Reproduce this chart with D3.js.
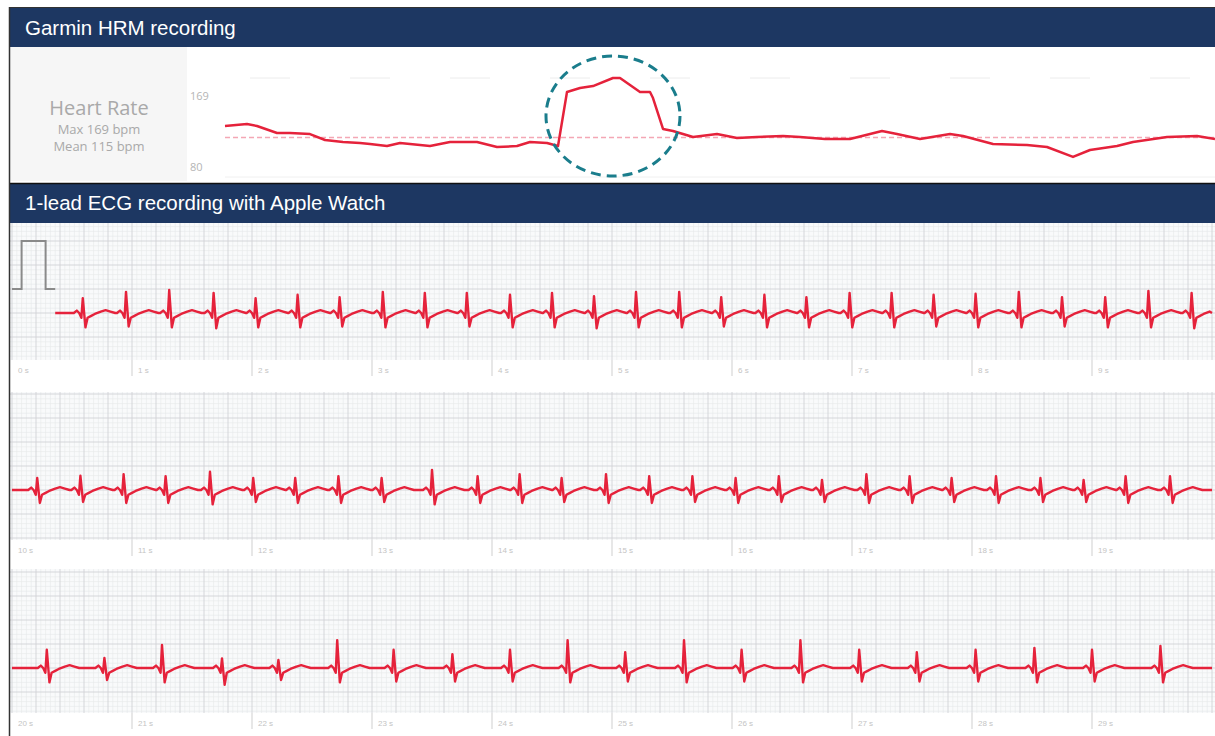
<!DOCTYPE html>
<html>
<head>
<meta charset="utf-8">
<script src="https://cdn.jsdelivr.net/npm/d3@7"></script>
<style>
  body { margin: 0; background: #fff; }
  svg { display: block; font-family: "Liberation Sans", Arial, sans-serif; }
</style>
</head>
<body>
<svg id="chart" width="1215" height="736"></svg>
<script>
// ---- Garmin HRM data (minutes from start, bpm) ----
const hrMinutes = [0, 2.2, 3.2, 5.2, 6.5, 8.5, 10, 11.8, 13.5, 14.5, 16.2, 17.5, 20.5, 22.5, 25.2, 27.2, 29.2, 30.5, 32.2, 33.3,
  34.2, 35.5, 36.8, 38.8, 39.5, 41.5, 42.5, 42.8, 43.8, 44.8, 46.8, 49.2, 51.2, 53.2, 55.8, 57.5, 60, 62.5, 65.7, 67.2,
  69.5, 72.5, 73.8, 76.8, 80.2, 82.2, 84.8, 86.5, 89.2, 90.8, 94.2, 97.2, 99];
const hrBpm = [125.4, 127.2, 125.4, 119.1, 119.1, 118.1, 112.7, 110.9, 110.0, 109.1, 107.2, 110.0, 107.2, 110.9, 110.9, 106.3, 107.2, 110.9, 110.0, 107.2,
  156.3, 159.9, 161.7, 169.0, 169.0, 156.3, 156.3, 150.8, 122.7, 120.9, 115.4, 118.1, 114.5, 115.4, 116.3, 115.4, 113.6, 113.6, 120.9, 118.1,
  113.6, 118.1, 116.3, 109.1, 108.2, 106.3, 97.3, 103.6, 107.2, 110.9, 115.4, 116.3, 113.6];
const hrMax = 169;
const hrMean = 115;
const hrMin = 80;

// ---- Apple Watch ECG: R-peak times (s), R heights and S depths (mV) ----
const strip1Beats = [0.59, 0.95, 1.31, 1.68, 2.03, 2.38, 2.73, 3.09, 3.44, 3.79, 4.15, 4.5, 4.85, 5.2, 5.56, 5.91, 6.27, 6.62,
  6.98, 7.33, 7.68, 8.03, 8.39, 8.75, 9.11, 9.47, 9.83];
const strip1R = [0.31, 0.44, 0.48, 0.42, 0.31, 0.38, 0.33, 0.44, 0.42, 0.42, 0.38, 0.42, 0.35, 0.44, 0.44, 0.33, 0.38, 0.33,
  0.42, 0.42, 0.38, 0.4, 0.44, 0.33, 0.33, 0.46, 0.42];
const strip1S = [-0.3, -0.28, -0.3, -0.32, -0.3, -0.3, -0.28, -0.3, -0.3, -0.28, -0.3, -0.3, -0.32, -0.3, -0.3, -0.28, -0.3, -0.3,
  -0.3, -0.3, -0.28, -0.3, -0.3, -0.28, -0.3, -0.3, -0.32];

const strip2Beats = [10.21, 10.57, 10.93, 11.28, 11.65, 12.01, 12.36, 12.72, 13.08, 13.5, 13.88, 14.23, 14.58, 14.95, 15.31, 15.67,
  16.03, 16.39, 16.75, 17.12, 17.48, 17.83, 18.2, 18.57, 18.93, 19.28, 19.65];
const strip2R = [0.25, 0.3, 0.33, 0.29, 0.38, 0.25, 0.25, 0.29, 0.25, 0.42, 0.29, 0.33, 0.25, 0.33, 0.29, 0.29,
  0.25, 0.29, 0.21, 0.33, 0.29, 0.25, 0.29, 0.25, 0.21, 0.29, 0.29];
const strip2S = [-0.27, -0.25, -0.27, -0.27, -0.3, -0.25, -0.27, -0.27, -0.25, -0.3, -0.27, -0.27, -0.25, -0.27, -0.27, -0.25,
  -0.27, -0.25, -0.25, -0.27, -0.27, -0.25, -0.27, -0.25, -0.25, -0.27, -0.27];

const strip3Beats = [20.29, 20.77, 21.25, 21.75, 22.22, 22.71, 23.18, 23.67, 24.15, 24.63, 25.11, 25.6, 26.08, 26.57, 27.06,
  27.54, 28.03, 28.52, 29.0, 29.57];
const strip3R = [0.38, 0.21, 0.48, 0.2, 0.17, 0.58, 0.38, 0.29, 0.38, 0.58, 0.33, 0.58, 0.38, 0.58, 0.38, 0.33, 0.38, 0.42, 0.38, 0.46];
const strip3S = [-0.3, -0.25, -0.3, -0.35, -0.25, -0.3, -0.28, -0.28, -0.28, -0.3, -0.28, -0.3, -0.28, -0.3, -0.28, -0.28, -0.28, -0.3, -0.28, -0.3];

// one beat, offsets (s) from the R peak; 'R' and 'S' are filled per beat
const beatDt = [-0.075, -0.05, -0.03, -0.012, 0, 0.022, 0.04, 0.07, 0.1, 0.15, 0.19, 0.23, 0.27];
const beatMv = [0, 0.05, 0, -0.1, 'R', 'S', -0.1, -0.06, -0.02, 0.03, 0.06, 0.03, 0];

// 1 mV calibration pulse at the start of the first strip
const calTime = [0, 0.08, 0.08, 0.28, 0.28, 0.36];
const calMv = [0.5, 0.5, 1.5, 1.5, 0.5, 0.5];

const strips = [
  { start: 0, traceFrom: 0.36, beats: strip1Beats, r: strip1R, s: strip1S, top: 223, bottom: 360, base: 313 },
  { start: 10, traceFrom: 10, beats: strip2Beats, r: strip2R, s: strip2S, top: 392, bottom: 540, base: 490 },
  { start: 20, traceFrom: 20, beats: strip3Beats, r: strip3R, s: strip3S, top: 569, bottom: 713, base: 668 },
];

const navy = '#1d3762';
const red = '#e5223b';
const svg = d3.select('#chart');
const W = 1215;

// frame
svg.append('rect').attr('width', W).attr('height', 736).attr('fill', '#fff');

function header(y, h, label) {
  svg.append('rect').attr('x', 10).attr('y', y).attr('width', W - 10).attr('height', h).attr('fill', navy);
  svg.append('text')
    .attr('x', 25).attr('y', y + h / 2 + 7)
    .attr('fill', '#fff').attr('font-size', 20.5)
    .text(label);
}
header(8, 39, 'Garmin HRM recording');
header(183, 40, '1-lead ECG recording with Apple Watch');
svg.append('line').attr('x1', 10).attr('x2', W).attr('y1', 183.5).attr('y2', 183.5).attr('stroke', '#111').attr('stroke-width', 1.5);

// ---- heart rate panel ----
svg.append('rect').attr('x', 10).attr('y', 47).attr('width', 177).attr('height', 134).attr('fill', '#f6f6f6');
const hrLabel = svg.append('g').attr('fill', '#a9a9a9').attr('text-anchor', 'middle').attr('font-family', '"Open Sans", sans-serif');
hrLabel.append('text').attr('x', 99).attr('y', 115).attr('font-size', 20).text('Heart Rate');
hrLabel.append('text').attr('x', 99).attr('y', 134).attr('font-size', 13).text(`Max ${hrMax} bpm`);
hrLabel.append('text').attr('x', 99).attr('y', 151).attr('font-size', 13).text(`Mean ${hrMean} bpm`);

const hrX = d3.scaleLinear().domain([0, 99]).range([225, 1215]);
const hrY = d3.scaleLinear().domain([hrMin, hrMax]).range([176, 78]);

svg.append('g').attr('fill', '#b5b5b5').attr('font-size', 11).attr('font-family', '"Open Sans", sans-serif')
  .selectAll('text').data([hrMax, hrMin]).join('text')
  .attr('x', 190)
  .attr('y', d => (d === hrMax ? hrY(d) + 22 : hrY(d) - 5))
  .text(d => d);

// faint guide lines
svg.append('line').attr('x1', 250).attr('x2', W).attr('y1', hrY(hrMax)).attr('y2', hrY(hrMax))
  .attr('stroke', '#ececec').attr('stroke-dasharray', '40 60');
svg.append('line').attr('x1', 225).attr('x2', W).attr('y1', hrY(hrMin) + 1).attr('y2', hrY(hrMin) + 1)
  .attr('stroke', '#f0f0f0');

svg.append('line')
  .attr('x1', hrX(0)).attr('x2', hrX(99))
  .attr('y1', hrY(hrMean)).attr('y2', hrY(hrMean))
  .attr('stroke', '#f4a7b5').attr('stroke-width', 1.4).attr('stroke-dasharray', '5 3');

const hrLine = d3.line().x(d => hrX(d[0])).y(d => hrY(d[1]));
svg.append('path')
  .datum(d3.zip(hrMinutes, hrBpm))
  .attr('d', hrLine)
  .attr('fill', 'none').attr('stroke', red).attr('stroke-width', 2.5).attr('stroke-linejoin', 'round');

// highlight of the exercise burst
svg.append('ellipse')
  .attr('cx', hrX(38.8)).attr('cy', 116).attr('rx', 67).attr('ry', 60)
  .attr('fill', 'none').attr('stroke', '#1a7d8c').attr('stroke-width', 3).attr('stroke-dasharray', '10 6');

// ---- ECG strips ----
function beatPoints(strip) {
  const pts = [[strip.traceFrom, 0]];
  strip.beats.forEach((t, i) => {
    beatDt.forEach((dt, k) => {
      let v = beatMv[k];
      if (v === 'R') v = strip.r[i];
      if (v === 'S') v = strip.s[i];
      pts.push([t + dt, v]);
    });
  });
  pts.push([strip.start + 10, 0]);
  return pts.filter(p => p[0] >= strip.traceFrom && p[0] <= strip.start + 10).sort((a, b) => a[0] - b[0]);
}

strips.forEach((strip, si) => {
  const x = d3.scaleLinear().domain([strip.start, strip.start + 10]).range([12, 1212]);
  const y = d3.scaleLinear().domain([-1, 1]).range([strip.base + 48, strip.base - 48]);
  const g = svg.append('g');

  g.append('rect').attr('x', 10).attr('y', strip.top).attr('width', W - 10).attr('height', strip.bottom - strip.top).attr('fill', '#f9fafb');

  // paper grid: 0.04 s / 0.1 mV minor, 0.2 s / 0.5 mV major
  const minorT = d3.range(0, 250).map(i => strip.start + i * 0.04);
  const mvSteps = d3.range(-60, 60).map(i => i * 0.1).filter(v => y(v) > strip.top && y(v) <= strip.bottom);
  g.append('g').attr('stroke', '#e5e7ea').attr('stroke-width', 0.6)
    .call(s => s.selectAll('.vx').data(minorT.filter((t, i) => i % 5)).join('line')
      .attr('x1', d => x(d)).attr('x2', d => x(d)).attr('y1', strip.top).attr('y2', strip.bottom))
    .call(s => s.selectAll('.hy').data(mvSteps.filter(v => Math.round(v * 10) % 5)).join('line')
      .attr('x1', 10).attr('x2', W).attr('y1', d => y(d)).attr('y2', d => y(d)));
  g.append('g').attr('stroke', '#d0d2d6').attr('stroke-width', 0.9)
    .call(s => s.selectAll('.vx').data(minorT.filter((t, i) => i % 5 === 0).concat([strip.start + 10])).join('line')
      .attr('x1', d => x(d)).attr('x2', d => x(d)).attr('y1', strip.top).attr('y2', strip.bottom))
    .call(s => s.selectAll('.hy').data(mvSteps.filter(v => Math.round(v * 10) % 5 === 0)).join('line')
      .attr('x1', 10).attr('x2', W).attr('y1', d => y(d)).attr('y2', d => y(d)));

  // second ticks and labels
  const secs = d3.range(strip.start, strip.start + 10);
  const axis = g.append('g');
  axis.selectAll('line').data(secs.slice(1)).join('line')
    .attr('x1', d => x(d)).attr('x2', d => x(d))
    .attr('y1', strip.bottom).attr('y2', strip.bottom + 16)
    .attr('stroke', '#cfcfcf');
  axis.selectAll('text').data(secs).join('text')
    .attr('x', d => x(d) + 6).attr('y', strip.bottom + 13)
    .attr('font-size', 8).attr('fill', '#c4c4c4')
    .text(d => `${d} s`);

  if (si === 0) {
    g.append('path')
      .datum(d3.zip(calTime, calMv))
      .attr('d', d3.line().x(d => x(d[0])).y(d => y(d[1])))
      .attr('fill', 'none').attr('stroke', '#8a8a8a').attr('stroke-width', 2);
  }

  g.append('path')
    .datum(beatPoints(strip))
    .attr('d', d3.line().x(d => x(d[0])).y(d => y(d[1])))
    .attr('fill', 'none').attr('stroke', red).attr('stroke-width', 2.4).attr('stroke-linejoin', 'round');
});

// outer frame edge
svg.append('line').attr('x1', 9.5).attr('x2', 9.5).attr('y1', 7).attr('y2', 736).attr('stroke', '#333').attr('stroke-width', 1.5);
svg.append('line').attr('x1', 9).attr('x2', W).attr('y1', 7.5).attr('y2', 7.5).attr('stroke', '#333').attr('stroke-width', 1);
</script>
</body>
</html>
